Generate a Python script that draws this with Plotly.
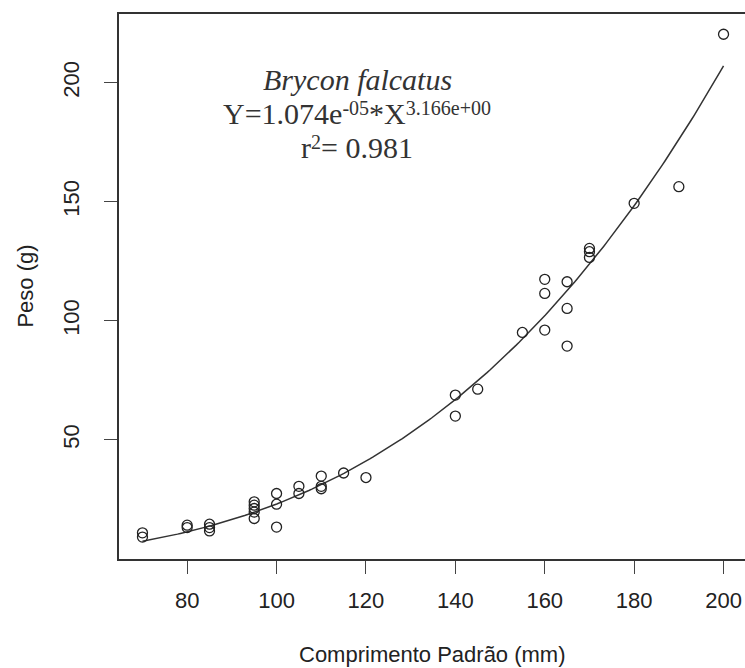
import numpy as np
import plotly.graph_objects as go

# Data (Comprimento padrão in mm, Peso in g)
comprimento = [70, 70, 80, 80, 85, 85, 85,
               95, 95, 95, 95, 95,
               100, 100, 100, 105, 105, 110, 110, 110, 115, 120,
               140, 140, 145, 155, 160, 160, 160, 165, 165, 165,
               170, 170, 170, 180, 190, 200]
peso = [11.0, 9.2, 14.2, 13.2, 14.6, 13.2, 11.8,
        24.0, 22.6, 21.2, 19.7, 17.0,
        27.5, 23.0, 13.4, 30.5, 27.5, 34.8, 30.5, 29.5, 36.1, 34.2,
        68.8, 60.0, 71.3, 95.1, 117.4, 111.5, 96.1, 116.4, 105.2, 89.4,
        130.4, 129.0, 126.6, 149.3, 156.3, 220.3]

coef_a = 1.074e-05
coef_b = 3.166
x_ticks = [80, 100, 120, 140, 160, 180, 200]
y_ticks = [50, 100, 150, 200]

xfit = np.linspace(min(comprimento), max(comprimento), 200)
yfit = coef_a * xfit ** coef_b

fig = go.Figure()
fig.add_trace(go.Scatter(
    x=xfit, y=yfit, mode="lines",
    line=dict(color="#333333", width=1.5), showlegend=False, hoverinfo="skip"))
fig.add_trace(go.Scatter(
    x=comprimento, y=peso, mode="markers",
    marker=dict(symbol="circle-open", size=10, color="#222222", line=dict(width=1.3)),
    showlegend=False))

serif = "Liberation Serif, Times New Roman, serif"
sans = "Liberation Sans, Arial, sans-serif"
sup_style = "font-size:20px;baseline-shift:9px"

fig.add_annotation(x=118, y=201.1, xref="x", yref="y", text="<i>Brycon falcatus</i>",
                   showarrow=False, font=dict(family=serif, size=30, color="#333333"),
                   xanchor="center", yanchor="middle")
fig.add_annotation(x=118, y=187.0, xref="x", yref="y",
                   text=("Y=1.074e<span style='%s'>-05</span>*X"
                         "<span style='%s'>3.166e+00</span>") % (sup_style, sup_style),
                   showarrow=False, font=dict(family=serif, size=30, color="#333333"),
                   xanchor="center", yanchor="middle")
fig.add_annotation(x=118, y=172.6, xref="x", yref="y",
                   text="r<span style='%s'>2</span>= 0.981" % sup_style,
                   showarrow=False, font=dict(family=serif, size=30, color="#333333"),
                   xanchor="center", yanchor="middle")

# Axis titles
fig.add_annotation(x=0.5, y=-0.176, xref="paper", yref="paper",
                   text="Comprimento Padrão (mm)", showarrow=False,
                   font=dict(family=sans, size=22, color="#222222"),
                   xanchor="center", yanchor="middle")
fig.add_annotation(x=-0.15, y=0.5, xref="paper", yref="paper",
                   text="Peso (g)", showarrow=False, textangle=-90,
                   font=dict(family=sans, size=22, color="#222222"),
                   xanchor="center", yanchor="middle")

fig.update_layout(
    width=745, height=668,
    margin=dict(l=119, r=0, t=14, b=109),
    paper_bgcolor="white", plot_bgcolor="white",
    font=dict(family=sans, size=22, color="#222222"),
)
fig.update_xaxes(
    range=[64.75, 204.8], tickvals=x_ticks, ticks="outside", ticklen=13,
    tickwidth=1.3, tickcolor="#444444", showline=True, linecolor="#333333",
    linewidth=1.5, mirror=True, showgrid=False, zeroline=False,
    ticklabelstandoff=8,
    tickfont=dict(family=sans, size=22, color="#222222"))
fig.update_yaxes(
    range=[0, 228.8], tickvals=y_ticks, ticks="outside", ticklen=13,
    tickwidth=1.3, tickcolor="#444444", showline=True, linecolor="#333333",
    linewidth=1.5, mirror=False, showgrid=False, zeroline=False, tickangle=-90,
    ticklabelstandoff=16,
    tickfont=dict(family=sans, size=22, color="#222222"))

fig.write_html("out.html", config={"displayModeBar": False},
               post_script="document.body.style.margin='0';document.body.style.overflow='hidden';")
